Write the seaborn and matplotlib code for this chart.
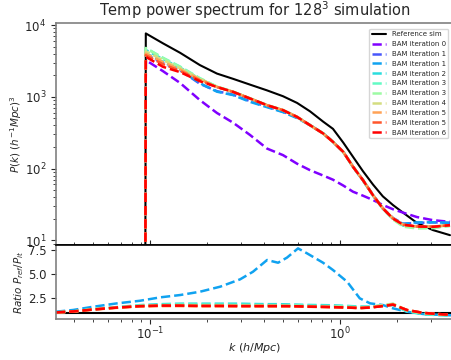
import numpy as np
import pandas as pd
import matplotlib
matplotlib.use("Agg")
import matplotlib.pyplot as plt
import seaborn as sns

# k bins of the main spectrum panel (first bin has zero power -> clipped)
k_main = [0.094, 0.095, 0.117, 0.144, 0.183, 0.225, 0.274, 0.336, 0.413, 0.501,
          0.594, 0.695, 0.815, 0.918, 1.04, 1.17, 1.32, 1.49, 1.68, 1.90,
          2.15, 2.54, 3.08, 3.79]

p_ref = [0.01, 7660, 5570, 4110, 2770, 2110, 1780, 1480, 1230, 1020, 823, 628,
         451, 358, 230, 146, 92, 60, 41, 31, 24.2, 17.5, 13.9, 11.8]
p_it0 = [0.01, 3250, 2280, 1560, 900, 596, 435, 294, 190, 154, 117, 95,
         80, 70, 58, 47.6, 41.9, 36.5, 31.1, 27.1, 24.3, 21.1, 19.1, 18.1]
p_it1a = [0.01, 3900, 2950, 2350, 1520, 1200, 1070, 870, 730, 620, 515, 405,
          309, 236, 171, 106, 69, 43, 28, 20.5, 17, 17.5, 17.8, 17.5]
p_it1b = [0.01, 4030, 3050, 2400, 1550, 1180, 1057, 851, 718, 612, 505, 403,
          309, 236, 171, 106, 69, 42.6, 27.8, 20.1, 16.9, 17.8, 17.8, 17.6]
p_it2 = [0.01, 4500, 3350, 2550, 1780, 1370, 1170, 945, 760, 650, 523, 400,
         308, 235, 170, 105, 68, 42, 27.5, 19.8, 16, 15.5, 15.6, 16.2]
p_it3a = [0.01, 4800, 3500, 2640, 1820, 1390, 1180, 955, 770, 655, 528, 405,
          311, 238, 172, 107, 70, 43, 28, 20, 16.1, 15, 15, 16]
p_it3b = [0.01, 4780, 3470, 2600, 1800, 1380, 1175, 950, 766, 653, 526, 403,
          309, 236, 171, 106, 69, 42.6, 27.8, 19.5, 15.5, 14.6, 14.8, 15.8]
p_it4 = [0.01, 4300, 3250, 2500, 1780, 1385, 1178, 952, 768, 654, 526, 402,
         308, 235, 170, 106, 69, 42.8, 28, 20.3, 16.4, 15.5, 15.5, 16.3]
p_it5a = [0.01, 4000, 3050, 2400, 1750, 1375, 1172, 948, 764, 652, 525, 402,
          308, 235, 170, 106, 69, 42.6, 27.9, 20.2, 16.5, 15.6, 15.5, 16.2]
p_it5b = [0.01, 3800, 2850, 2300, 1700, 1370, 1170, 946, 763, 651, 524, 402,
          308, 235, 170, 106, 69, 42.6, 27.9, 20.2, 16.5, 15.6, 15.5, 16.2]
p_it6 = [0.01, 3610, 2620, 2210, 1650, 1370, 1172, 948, 765, 652, 525, 403,
         309, 236, 171, 106, 69, 42.6, 27.8, 20.1, 16.5, 15.6, 15.4, 16.3]

labels = ["BAM iteration 0", "BAM iteration 1", "BAM iteration 1",
          "BAM iteration 2", "BAM iteration 3", "BAM iteration 3",
          "BAM iteration 4", "BAM iteration 5", "BAM iteration 5",
          "BAM iteration 6"]
spectra = [p_it0, p_it1a, p_it1b, p_it2, p_it3a, p_it3b, p_it4, p_it5a, p_it5b, p_it6]

# ratio panel
k_ratio = [0.032, 0.0394, 0.0501, 0.067, 0.0886, 0.113, 0.144, 0.183, 0.234,
           0.298, 0.348, 0.413, 0.472, 0.526, 0.601, 0.670, 0.814, 0.918,
           1.09, 1.27, 1.44, 1.68, 1.90, 2.25, 2.74, 3.48, 3.84]
r_it1b = [1.12, 1.3, 1.63, 1.98, 2.25, 2.6, 2.84, 3.18, 3.7, 4.46, 5.24, 6.45,
          6.17, 6.7, 7.65, 7.14, 6.17, 5.42, 4.21, 2.5, 1.98, 1.81, 1.47, 1.12,
          0.88, 0.78, 0.75]
r_it2 = [1.05, 1.15, 1.4, 1.6, 1.8, 1.9, 1.95, 1.95, 1.95, 1.95, 1.92, 1.9,
         1.9, 1.88, 1.85, 1.82, 1.8, 1.78, 1.72, 1.65, 1.65, 1.75, 1.8, 1.15,
         0.85, 0.75, 0.72]
r_it3a = [1.05, 1.15, 1.38, 1.58, 1.75, 1.82, 1.85, 1.85, 1.84, 1.83, 1.82, 1.8,
          1.8, 1.78, 1.76, 1.74, 1.72, 1.7, 1.66, 1.6, 1.62, 1.78, 1.9, 1.2,
          0.9, 0.78, 0.75]
r_it3b = [1.05, 1.15, 1.37, 1.57, 1.73, 1.8, 1.82, 1.8, 1.8, 1.78, 1.78, 1.77,
          1.76, 1.75, 1.73, 1.7, 1.68, 1.66, 1.62, 1.56, 1.6, 1.8, 1.95, 1.25,
          0.95, 0.8, 0.78]
r_it4 = [1.05, 1.14, 1.36, 1.55, 1.7, 1.76, 1.77, 1.75, 1.75, 1.74, 1.73, 1.72,
         1.72, 1.71, 1.7, 1.67, 1.64, 1.62, 1.58, 1.52, 1.58, 1.78, 1.92, 1.28,
         0.98, 0.83, 0.8]
r_it5a = [1.05, 1.13, 1.33, 1.52, 1.66, 1.7, 1.7, 1.68, 1.68, 1.67, 1.67, 1.67,
          1.67, 1.67, 1.66, 1.63, 1.6, 1.58, 1.54, 1.48, 1.54, 1.72, 1.88, 1.3,
          1.0, 0.85, 0.82]
r_it5b = [1.05, 1.14, 1.34, 1.54, 1.68, 1.73, 1.73, 1.71, 1.71, 1.7, 1.7, 1.7,
          1.7, 1.69, 1.67, 1.64, 1.61, 1.59, 1.55, 1.5, 1.55, 1.7, 1.85, 1.3,
          1.0, 0.85, 0.82]
r_it6 = [1.05, 1.15, 1.35, 1.55, 1.7, 1.75, 1.75, 1.72, 1.72, 1.7, 1.7, 1.7,
         1.7, 1.7, 1.68, 1.65, 1.62, 1.6, 1.55, 1.5, 1.55, 1.7, 1.85, 1.3,
         1.0, 0.85, 0.82]
ratios = {2: r_it1b, 3: r_it2, 4: r_it3a, 5: r_it3b, 6: r_it4,
          7: r_it5a, 8: r_it5b, 9: r_it6}

sns.set_style("ticks")
colors = plt.cm.rainbow(np.linspace(0, 1, len(spectra)))

fig = plt.figure(figsize=(4.51, 3.6), dpi=100)
ax = fig.add_axes([0.1242, 0.3194, 0.8825, 0.6167])
ax2 = fig.add_axes([0.1242, 0.1139, 0.8825, 0.2056], sharex=ax)

sns.lineplot(x=k_main, y=p_ref, ax=ax, color="black", lw=1.5,
             label="Reference sim", sort=False, estimator=None)
for i, p in enumerate(spectra):
    sns.lineplot(x=k_main, y=p, ax=ax, color=colors[i], lw=1.8, linestyle="--",
                 label=labels[i], sort=False, estimator=None)

ax.set_xscale("log")
ax.set_yscale("log")
ax.set_xlim(0.032, 3.98)
ax.set_ylim(8.6, 10700)
ax.set_title(r"Temp power spectrum for $128^3$ simulation", fontsize=10.5, pad=5)
ax.set_ylabel(r"$P(k)\ (h^{-1}Mpc)^3$", fontsize=7.5, labelpad=0)
ax.tick_params(axis="y", labelsize=8.5)
ax.tick_params(axis="x", which="both", direction="in", labelbottom=False)
ax.legend(loc="upper right", fontsize=5, framealpha=0.8, borderaxespad=0.8,
          handlelength=2.0, labelspacing=0.55)

ax2.axhline(1, color="black", lw=1.5)
for i, r in ratios.items():
    sns.lineplot(x=k_ratio, y=r, ax=ax2, color=colors[i], lw=1.8, linestyle="--",
                 sort=False, estimator=None)
ax2.set_ylim(0.37, 8.0)
ax2.set_yticks([2.5, 5.0, 7.5])
ax2.set_xlabel(r"$k\ (h/Mpc)$", fontsize=8, labelpad=-1)
ax2.set_ylabel(r"$Ratio\ P_{ref}/P_{it}$", fontsize=7.5, labelpad=1)
ax2.tick_params(labelsize=8.5)
ax2.tick_params(axis="x", pad=1.5)

for a in (ax, ax2):
    for s in a.spines.values():
        s.set_color("0.5")
        s.set_linewidth(1.2)
ax.spines["bottom"].set_color("black")
ax2.spines["top"].set_color("black")

fig.savefig("out.png", dpi=100)
